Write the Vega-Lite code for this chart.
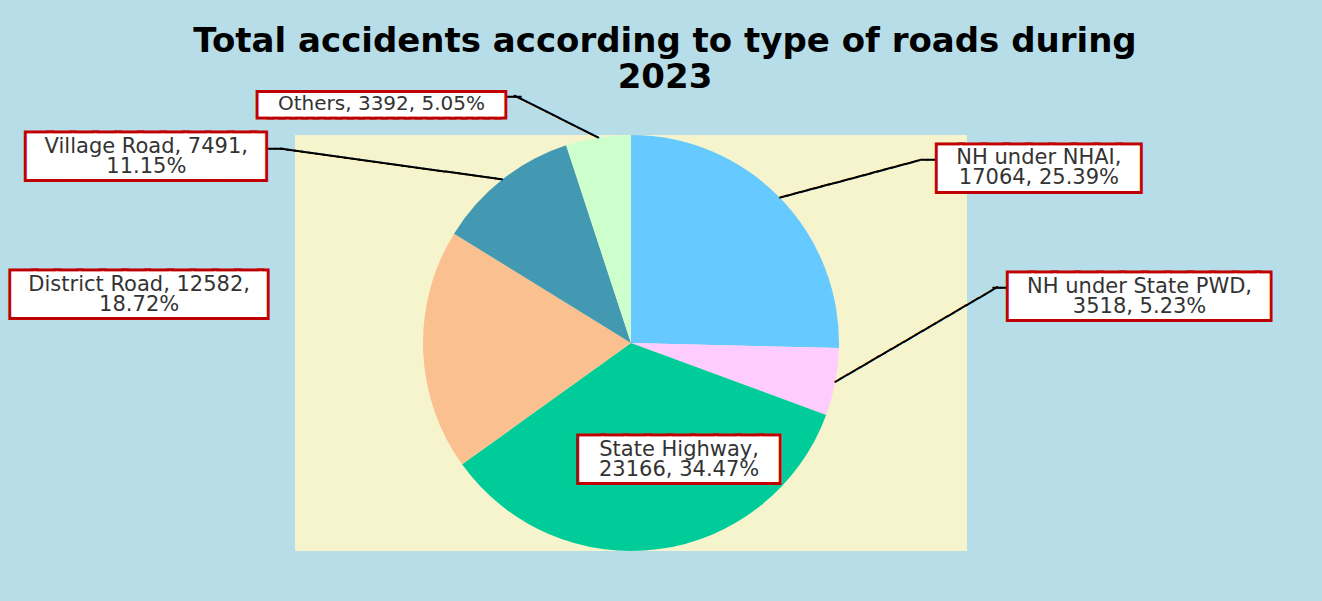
{
  "$schema": "https://vega.github.io/schema/vega-lite/v6.json",
  "width": 672,
  "height": 416,
  "autosize": {"type": "none"},
  "padding": {"left": 295, "top": 135, "right": 355, "bottom": 50},
  "background": "#b7dde8",
  "view": {"fill": "#f6f4cc", "strokeWidth": 0},
  "title": {
    "text": ["Total accidents according to type of roads during", "2023"],
    "font": "DejaVu Sans",
    "fontWeight": "bold",
    "fontSize": 34,
    "color": "#000000",
    "anchor": "middle",
    "frame": "group",
    "dx": 34,
    "dy": 113,
    "offset": 0,
    "lineHeight": 36
  },
  "data": {
    "values": [
      {"road": "NH under NHAI", "count": 17064, "pct": 25.39, "idx": 1, "label": ["NH under NHAI,", "17064, 25.39%"]},
      {"road": "NH under State PWD", "count": 3518, "pct": 5.23, "idx": 2, "label": ["NH under State PWD,", "3518, 5.23%"]},
      {"road": "State Highway", "count": 23166, "pct": 34.47, "idx": 3, "label": ["State  Highway,", "23166, 34.47%"]},
      {"road": "District Road", "count": 12582, "pct": 18.72, "idx": 4, "label": ["District Road, 12582,", "18.72%"]},
      {"road": "Village Road", "count": 7491, "pct": 11.15, "idx": 5, "label": ["Village Road, 7491,", "11.15%"]},
      {"road": "Others", "count": 3392, "pct": 5.05, "idx": 6, "label": ["Others, 3392, 5.05%"]}
    ]
  },
  "encoding": {
    "theta": {"field": "count", "type": "quantitative", "stack": true},
    "order": {"field": "idx", "type": "quantitative"},
    "detail": {"field": "road", "type": "nominal"}
  },
  "layer": [
    {
      "mark": {"type": "arc", "outerRadius": 208},
      "encoding": {
        "color": {
          "field": "road",
          "type": "nominal",
          "scale": {
            "domain": ["NH under NHAI", "NH under State PWD", "State Highway", "District Road", "Village Road", "Others"],
            "range": ["#66c9ff", "#ffccff", "#00cc99", "#fac090", "#4399b1", "#ccffcc"]
          },
          "legend": null
        }
      }
    },
    {
      "mark": {"type": "text", "radius": 208, "align": "left", "baseline": "middle", "angle": -15, "font": "DejaVu Sans Mono", "fontSize": 12, "fill": "#000000", "stroke": "#000000", "strokeWidth": 1},
      "encoding": {"text": {"condition": {"test": "datum.road === 'NH under NHAI'", "value": "────────────────────"}, "value": ""}}
    },
    {
      "mark": {"type": "text", "radius": 208, "align": "left", "baseline": "middle", "angle": -30.3, "font": "DejaVu Sans Mono", "fontSize": 12, "fill": "#000000", "stroke": "#000000", "strokeWidth": 1},
      "encoding": {"text": {"condition": {"test": "datum.road === 'NH under State PWD'", "value": "──────────────────────────"}, "value": ""}}
    },
    {
      "mark": {"type": "text", "radius": 208, "align": "right", "baseline": "middle", "angle": 7.9, "font": "DejaVu Sans Mono", "fontSize": 12, "fill": "#000000", "stroke": "#000000", "strokeWidth": 1},
      "encoding": {"text": {"condition": {"test": "datum.road === 'Village Road'", "value": "───────────────────────────────"}, "value": ""}}
    },
    {
      "mark": {"type": "text", "radius": 208, "align": "right", "baseline": "middle", "angle": 26.6, "font": "DejaVu Sans Mono", "fontSize": 12, "fill": "#000000", "stroke": "#000000", "strokeWidth": 1},
      "encoding": {"text": {"condition": {"test": "datum.road === 'Others'", "value": "─────────────"}, "value": ""}}
    },
    {
      "mark": {"type": "text", "radius": 250, "dx": 125, "dy": -8, "align": "right", "baseline": "middle", "font": "DejaVu Sans Mono", "fontSize": 12, "fill": "#000000", "stroke": "#000000", "strokeWidth": 1},
      "encoding": {"text": {"condition": {"test": "datum.road === 'NH under NHAI'", "value": "──"}, "value": ""}}
    },
    {
      "mark": {"type": "text", "radius": 250, "dx": 131, "dy": -102, "align": "right", "baseline": "middle", "font": "DejaVu Sans Mono", "fontSize": 12, "fill": "#000000", "stroke": "#000000", "strokeWidth": 1},
      "encoding": {"text": {"condition": {"test": "datum.road === 'NH under State PWD'", "value": "──"}, "value": ""}}
    },
    {
      "mark": {"type": "text", "radius": 250, "dx": -208, "dy": 2, "align": "left", "baseline": "middle", "font": "DejaVu Sans Mono", "fontSize": 12, "fill": "#000000", "stroke": "#000000", "strokeWidth": 1},
      "encoding": {"text": {"condition": {"test": "datum.road === 'Village Road'", "value": "──"}, "value": ""}}
    },
    {
      "mark": {"type": "text", "radius": 250, "dx": -85, "dy": 1, "align": "left", "baseline": "middle", "font": "DejaVu Sans Mono", "fontSize": 12, "fill": "#000000", "stroke": "#000000", "strokeWidth": 1},
      "encoding": {"text": {"condition": {"test": "datum.road === 'Others'", "value": "──"}, "value": ""}}
    },
    {
      "mark": {"type": "text", "radius": 250, "dx": 230.4, "dy": 1.5, "align": "center", "baseline": "middle", "font": "DejaVu Sans Mono", "fontSize": 37.5, "fill": "#c00000", "stroke": "#c00000", "strokeWidth": 7},
      "encoding": {"text": {"condition": {"test": "datum.road === 'NH under NHAI'", "value": "████████▉"}, "value": ""}}
    },
    {
      "mark": {"type": "text", "radius": 250, "dx": 230.4, "dy": 1.5, "align": "center", "baseline": "middle", "font": "DejaVu Sans Mono", "fontSize": 37.5, "fill": "#ffffff", "stroke": "#ffffff", "strokeWidth": 1},
      "encoding": {"text": {"condition": {"test": "datum.road === 'NH under NHAI'", "value": "████████▉"}, "value": ""}}
    },
    {
      "mark": {"type": "text", "radius": 250, "dx": 268.6, "dy": -91.5, "align": "center", "baseline": "middle", "font": "DejaVu Sans Mono", "fontSize": 37.5, "fill": "#c00000", "stroke": "#c00000", "strokeWidth": 7},
      "encoding": {"text": {"condition": {"test": "datum.road === 'NH under State PWD'", "value": "███████████▌"}, "value": ""}}
    },
    {
      "mark": {"type": "text", "radius": 250, "dx": 268.6, "dy": -91.5, "align": "center", "baseline": "middle", "font": "DejaVu Sans Mono", "fontSize": 37.5, "fill": "#ffffff", "stroke": "#ffffff", "strokeWidth": 1},
      "encoding": {"text": {"condition": {"test": "datum.road === 'NH under State PWD'", "value": "███████████▌"}, "value": ""}}
    },
    {
      "mark": {"type": "text", "radius": 120, "dx": 34.8, "dy": -0.5, "align": "center", "baseline": "middle", "font": "DejaVu Sans Mono", "fontSize": 37.5, "fill": "#c00000", "stroke": "#c00000", "strokeWidth": 7},
      "encoding": {"text": {"condition": {"test": "datum.road === 'State Highway'", "value": "████████▊"}, "value": ""}}
    },
    {
      "mark": {"type": "text", "radius": 120, "dx": 34.8, "dy": -0.5, "align": "center", "baseline": "middle", "font": "DejaVu Sans Mono", "fontSize": 37.5, "fill": "#ffffff", "stroke": "#ffffff", "strokeWidth": 1},
      "encoding": {"text": {"condition": {"test": "datum.road === 'State Highway'", "value": "████████▊"}, "value": ""}}
    },
    {
      "mark": {"type": "text", "radius": 250, "dx": -233.5, "dy": -55.5, "align": "center", "baseline": "middle", "font": "DejaVu Sans Mono", "fontSize": 37.5, "fill": "#c00000", "stroke": "#c00000", "strokeWidth": 7},
      "encoding": {"text": {"condition": {"test": "datum.road === 'District Road'", "value": "███████████▎"}, "value": ""}}
    },
    {
      "mark": {"type": "text", "radius": 250, "dx": -233.5, "dy": -55.5, "align": "center", "baseline": "middle", "font": "DejaVu Sans Mono", "fontSize": 37.5, "fill": "#ffffff", "stroke": "#ffffff", "strokeWidth": 1},
      "encoding": {"text": {"condition": {"test": "datum.road === 'District Road'", "value": "███████████▎"}, "value": ""}}
    },
    {
      "mark": {"type": "text", "radius": 250, "dx": -324.4, "dy": 11.5, "align": "center", "baseline": "middle", "font": "DejaVu Sans Mono", "fontSize": 37.5, "fill": "#c00000", "stroke": "#c00000", "strokeWidth": 7},
      "encoding": {"text": {"condition": {"test": "datum.road === 'Village Road'", "value": "██████████▌"}, "value": ""}}
    },
    {
      "mark": {"type": "text", "radius": 250, "dx": -324.4, "dy": 11.5, "align": "center", "baseline": "middle", "font": "DejaVu Sans Mono", "fontSize": 37.5, "fill": "#ffffff", "stroke": "#ffffff", "strokeWidth": 1},
      "encoding": {"text": {"condition": {"test": "datum.road === 'Village Road'", "value": "██████████▌"}, "value": ""}}
    },
    {
      "mark": {"type": "text", "radius": 250, "dx": -207.2, "dy": 8.5, "align": "center", "baseline": "middle", "font": "DejaVu Sans Mono", "fontSize": 18.9, "fill": "#c00000", "stroke": "#c00000", "strokeWidth": 7},
      "encoding": {"text": {"condition": {"test": "datum.road === 'Others'", "value": "█████████████████████▌"}, "value": ""}}
    },
    {
      "mark": {"type": "text", "radius": 250, "dx": -207.2, "dy": 8.5, "align": "center", "baseline": "middle", "font": "DejaVu Sans Mono", "fontSize": 18.9, "fill": "#ffffff", "stroke": "#ffffff", "strokeWidth": 1},
      "encoding": {"text": {"condition": {"test": "datum.road === 'Others'", "value": "█████████████████████▌"}, "value": ""}}
    },
    {
      "mark": {"type": "text", "radius": 250, "dx": 229, "dy": -10, "align": "center", "baseline": "middle", "font": "DejaVu Sans", "fontSize": 21, "lineHeight": 20, "fill": "#333333"},
      "encoding": {"text": {"condition": {"test": "datum.road === 'NH under NHAI'", "field": "label"}, "value": ""}}
    },
    {
      "mark": {"type": "text", "radius": 250, "dx": 263, "dy": -103, "align": "center", "baseline": "middle", "font": "DejaVu Sans", "fontSize": 21, "lineHeight": 20, "fill": "#333333"},
      "encoding": {"text": {"condition": {"test": "datum.road === 'NH under State PWD'", "field": "label"}, "value": ""}}
    },
    {
      "mark": {"type": "text", "radius": 120, "dx": 32, "dy": -12, "align": "center", "baseline": "middle", "font": "DejaVu Sans", "fontSize": 21, "lineHeight": 20, "fill": "#333333"},
      "encoding": {"text": {"condition": {"test": "datum.road === 'State Highway'", "field": "label"}, "value": ""}}
    },
    {
      "mark": {"type": "text", "radius": 250, "dx": -242, "dy": -67, "align": "center", "baseline": "middle", "font": "DejaVu Sans", "fontSize": 21, "lineHeight": 20, "fill": "#333333"},
      "encoding": {"text": {"condition": {"test": "datum.road === 'District Road'", "field": "label"}, "value": ""}}
    },
    {
      "mark": {"type": "text", "radius": 250, "dx": -330, "dy": 0, "align": "center", "baseline": "middle", "font": "DejaVu Sans", "fontSize": 21, "lineHeight": 20, "fill": "#333333"},
      "encoding": {"text": {"condition": {"test": "datum.road === 'Village Road'", "field": "label"}, "value": ""}}
    },
    {
      "mark": {"type": "text", "radius": 250, "dx": -210, "dy": 8, "align": "center", "baseline": "middle", "font": "DejaVu Sans", "fontSize": 20, "fill": "#333333"},
      "encoding": {"text": {"condition": {"test": "datum.road === 'Others'", "field": "label"}, "value": ""}}
    }
  ]
}
